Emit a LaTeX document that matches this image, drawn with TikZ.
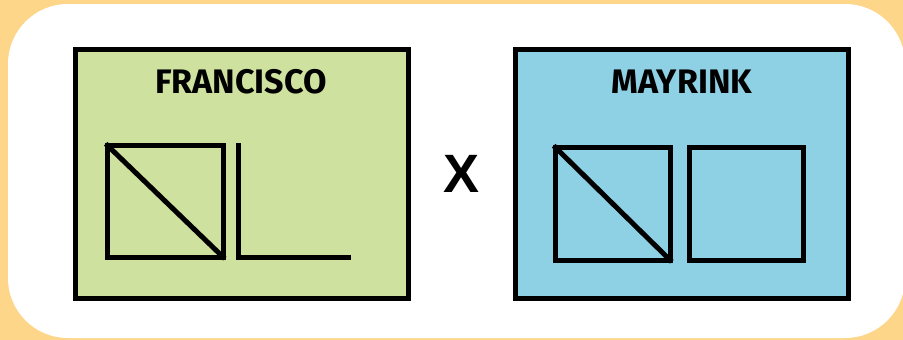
\documentclass[tikz,border=0pt]{standalone}
\usepackage{fontspec}
\setmainfont{Fira Sans}
\newfontfamily\xfont{Liberation Sans}
\definecolor{bgorange}{HTML}{FDD68A}
\definecolor{boxgreen}{HTML}{CFE19F}
\definecolor{boxblue}{HTML}{8ED1E4}
\tikzset{
  panel/.style={draw=black, line width=5pt},
  sq/.style={draw=black, line width=5pt, line cap=rect},
  title/.style={font=\fontsize{34}{34}\selectfont\bfseries, text=black, inner sep=0pt},
}
\begin{document}
\begin{tikzpicture}[x=1pt,y=-1pt]
\fill[bgorange] (0,0) rectangle (903,340);
\useasboundingbox (0,0) rectangle (903,340);
\fill[white, rounded corners=60pt] (8,4) rectangle (905,338);
% left panel
\draw[panel, fill=boxgreen] (75.5,49.5) rectangle (408,298);
\node[title] (fr) at (241,82) {FRANCISCO};
\draw[sq] (107.5,145.5) rectangle (223,257);
\draw[sq] (107.5,145.5) -- (223,257);
\draw[sq] (238,145.5) -- (238,257) -- (348,257);
% X
\node[font=\xfont\fontsize{54}{54}\selectfont\bfseries, inner sep=0pt] (x) at (461.5,173.5) {X};
% right panel
\draw[panel, fill=boxblue] (515.5,49.5) rectangle (848,298);
\node[title] (my) at (682,82) {MAYRINK};
\draw[sq] (555.5,147.5) rectangle (670,260);
\draw[sq] (555.5,147.5) -- (670,260);
\draw[sq] (689.5,147.5) rectangle (803,260);
\end{tikzpicture}
\end{document}
